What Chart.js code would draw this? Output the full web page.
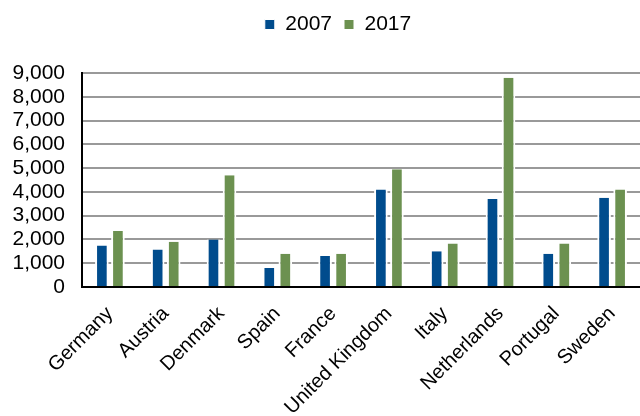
<!DOCTYPE html>
<html>
<head>
<meta charset="utf-8">
<script src="https://cdn.jsdelivr.net/npm/chart.js@4"></script>
<style>
  html, body { margin: 0; padding: 0; background: #fff; }
  #wrap { width: 640px; height: 416px; }
</style>
</head>
<body>
<div id="wrap"><canvas id="chart"></canvas></div>
<script>
const countries = ['Germany', 'Austria', 'Denmark', 'Spain', 'France', 'United Kingdom', 'Italy', 'Netherlands', 'Portugal', 'Sweden'];
const values2007 = [1750, 1580, 2000, 800, 1300, 4100, 1500, 3700, 1400, 3750];
const values2017 = [2350, 1900, 4700, 1400, 1400, 4950, 1830, 8800, 1830, 4100];
const yTicks = [0, 1000, 2000, 3000, 4000, 5000, 6000, 7000, 8000, 9000];

const ctx = document.getElementById('chart').getContext('2d');

// push the plot down a bit below the legend, and nudge legend right
const legendGap = {
  id: 'legendGap',
  beforeInit(chart) {
    const fit = chart.legend.fit;
    chart.legend.fit = function () {
      fit.bind(chart.legend)();
      this.height += 28;
    };
  },
  afterLayout(chart) {
    chart.legend.left += 14;
    chart.legend.right += 14;
  }
};

const sideBorder = { top: 0, left: 2, right: 2, bottom: 0 };

new Chart(ctx, {
  type: 'bar',
  data: {
    labels: countries,
    datasets: [{
      label: '2007',
      data: values2007,
      backgroundColor: '#004C8D',
      borderColor: '#ffffff',
      borderWidth: sideBorder,
      borderSkipped: false,
      categoryPercentage: 0.575,
      barPercentage: 0.85
    }, {
      label: '2017',
      data: values2017,
      backgroundColor: '#6C9150',
      borderColor: '#ffffff',
      borderWidth: sideBorder,
      borderSkipped: false,
      categoryPercentage: 0.575,
      barPercentage: 0.85
    }]
  },
  options: {
    responsive: true,
    maintainAspectRatio: false,
    animation: false,
    layout: { autoPadding: false, padding: { left: 8, right: 0, top: 2, bottom: 0 } },
    scales: {
      y: {
        min: 0,
        max: 9000,
        afterBuildTicks: s => { s.ticks = yTicks.map(v => ({ value: v })); },
        afterFit: s => { s.width = 74; },
        ticks: {
          color: '#000',
          font: { family: 'Liberation Sans, Arial', size: 21 },
          padding: 17,
          autoSkip: false,
          callback: v => v.toLocaleString('en-US')
        },
        grid: { color: '#999999', lineWidth: 2, drawTicks: false },
        border: { color: '#000', width: 2 }
      },
      x: {
        afterFit: s => {
          s.height = 129;
          s.paddingLeft = 0;
          s.paddingRight = 0;
        },
        ticks: {
          color: '#000',
          font: { family: 'Liberation Sans, Arial', size: 20 },
          minRotation: 45,
          maxRotation: 45,
          autoSkip: false,
          padding: 7
        },
        grid: { display: false },
        border: { color: '#000', width: 2 }
      }
    },
    plugins: {
      legend: {
        position: 'top',
        labels: {
          color: '#000',
          font: { family: 'Liberation Sans, Arial', size: 21 },
          boxWidth: 10,
          boxHeight: 10,
          padding: 12
        }
      },
      tooltip: { enabled: false }
    }
  },
  plugins: [legendGap]
});
</script>
</body>
</html>
